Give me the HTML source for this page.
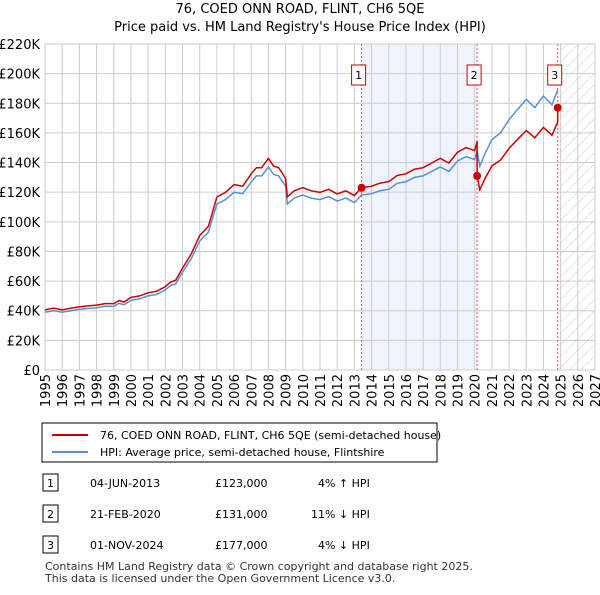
<!DOCTYPE html>
<html><head><meta charset="utf-8"><style>
body{margin:0;background:#fff;font-family:"Liberation Sans","DejaVu Sans",sans-serif;}
svg text{font-family:"DejaVu Sans","Liberation Sans",sans-serif;}
</style></head><body>
<svg id="c" width="600" height="590" viewBox="0 0 600 590" xmlns="http://www.w3.org/2000/svg">
<defs><pattern id="h" width="8" height="8" patternUnits="userSpaceOnUse" patternTransform="rotate(45)"><line x1="0" y1="0" x2="0" y2="8" stroke="#ccc" stroke-width="1"/></pattern></defs>
<text x="300" y="13" text-anchor="middle" font-size="13" fill="#000">76, COED ONN ROAD, FLINT, CH6 5QE</text>
<text x="300" y="31" text-anchor="middle" font-size="13" fill="#000">Price paid vs. HM Land Registry's House Price Index (HPI)</text>
<g id="plot"></g>
<g>
<rect x="42" y="423" width="395" height="39" fill="#fff" stroke="#000" stroke-width="1"/>
<line x1="52" y1="435" x2="88" y2="435" stroke="#cc0000" stroke-width="2"/>
<text x="100" y="439" font-size="11">76, COED ONN ROAD, FLINT, CH6 5QE (semi-detached house)</text>
<line x1="52" y1="452" x2="88" y2="452" stroke="#5b8fd4" stroke-width="2"/>
<text x="100" y="456" font-size="11">HPI: Average price, semi-detached house, Flintshire</text>
</g>
<g font-size="11">
<rect x="43" y="474" width="15" height="17" fill="#fff" stroke="#000"/><text x="50.5" y="487" text-anchor="middle">1</text>
<text x="90" y="487">04-JUN-2013</text><text x="215" y="487">£123,000</text><text x="318" y="487">4% ↑ HPI</text>
<rect x="43" y="505" width="15" height="17" fill="#fff" stroke="#000"/><text x="50.5" y="518" text-anchor="middle">2</text>
<text x="90" y="518">21-FEB-2020</text><text x="215" y="518">£131,000</text><text x="311" y="518">11% ↓ HPI</text>
<rect x="43" y="536" width="15" height="17" fill="#fff" stroke="#000"/><text x="50.5" y="549" text-anchor="middle">3</text>
<text x="90" y="549">01-NOV-2024</text><text x="215" y="549">£177,000</text><text x="318" y="549">4% ↓ HPI</text>
</g>
<text x="45" y="570" font-size="11" fill="#333">Contains HM Land Registry data © Crown copyright and database right 2025.</text>
<text x="45" y="582" font-size="11" fill="#333">This data is licensed under the Open Government Licence v3.0.</text>
</svg>
<script>
const hpiYears=[1995,1995.5,1996,1996.5,1997,1997.5,1998,1998.5,1999,1999.3,1999.6,2000,2000.5,2001,2001.5,2002,2002.3,2002.6,2003,2003.5,2004,2004.5,2005,2005.5,2006,2006.5,2007,2007.3,2007.6,2008,2008.3,2008.6,2009,2009.1,2009.5,2010,2010.5,2011,2011.5,2012,2012.5,2013,2013.42,2014,2014.5,2015,2015.5,2016,2016.5,2017,2017.5,2018,2018.5,2019,2019.5,2020,2020.14,2020.3,2020.6,2021,2021.5,2022,2022.5,2023,2023.5,2024,2024.5,2024.83];
const hpiValues=[39,40,39,40,41,41.5,42,43,43,45,44,47,48,50,51,54,57,58,66,75,87,93,112,115,120,119,127,131,131,137,132,131,124,112,116,118,116,115,117,114,116,113,118,119,121,122,126,127,130,131,134,137,134,141,144,142,148,137.5,146,155.5,160,169,176,182.6,177,185,179,189];
const saleYears=[2013.42,2020.14,2024.83];
const salePrices=[123,131,177];
const saleLabels=["1","2","3"];
const yTicks=[0,20,40,60,80,100,120,140,160,180,200,220];
const xTicks=[1995,1996,1997,1998,1999,2000,2001,2002,2003,2004,2005,2006,2007,2008,2009,2010,2011,2012,2013,2014,2015,2016,2017,2018,2019,2020,2021,2022,2023,2024,2025,2026,2027];
const NS="http://www.w3.org/2000/svg";
const L=45,R=595,T=44,B=370;
const sx=v=>L+(v-1995)*(R-L)/32;
const sy=v=>B-v*(B-T)/220;
const g=document.getElementById('plot');
function mk(t,a,p){const e=document.createElementNS(NS,t);for(const k in a)e.setAttribute(k,a[k]);(p||g).appendChild(e);return e;}
function hpiAt(x){for(let i=1;i<hpiYears.length;i++){if(x<=hpiYears[i]){const f=(x-hpiYears[i-1])/(hpiYears[i]-hpiYears[i-1]);return hpiValues[i-1]+f*(hpiValues[i]-hpiValues[i-1]);}}return hpiValues[hpiValues.length-1];}
let e=mk('rect',{x:sx(saleYears[0]),y:T,width:sx(saleYears[1])-sx(saleYears[0]),height:B-T,fill:'#eef3fc'});


e=mk('rect',{x:sx(2024.92),y:T,width:R-sx(2024.92),height:B-T,fill:'url(#h)'});


yTicks.forEach(v=>{const l=mk('line',{x1:L,x2:R,y1:sy(v),y2:sy(v),stroke:'#ccc','stroke-width':1});


const t=mk('text',{x:L-5,y:sy(v)+5,'text-anchor':'end','font-size':13,fill:'#000'});t.textContent=v===0?'£0':'£'+v+'K';

});
xTicks.forEach(v=>{const l=mk('line',{x1:sx(v),x2:sx(v),y1:T,y2:B,stroke:'#ccc','stroke-width':1});


const t=mk('text',{x:0,y:0,'text-anchor':'end','font-size':13,fill:'#000',transform:`translate(${sx(v)+5},${B+4}) rotate(-90)`});t.textContent=v;

});
e=mk('rect',{x:L,y:T,width:R-L,height:B-T,fill:'none',stroke:'#ccc'});


saleYears.forEach(s=>{const l=mk('line',{x1:sx(s),x2:sx(s),y1:T,y2:B,stroke:'#e06060','stroke-width':1,'stroke-dasharray':'2,2'});

});
let d=hpiYears.map((x,i)=>(i?'L':'M')+sx(x).toFixed(1)+','+sy(hpiValues[i]).toFixed(1)).join('');
e=mk('path',{d:d,fill:'none',stroke:'#5b8fd4','stroke-width':1.5});


const factor=x=>{let k=0;for(let i=0;i<saleYears.length;i++)if(x>=saleYears[i])k=i;return salePrices[k]/hpiAt(saleYears[k]);};
let pts=[];
hpiYears.forEach((x,i)=>{if(x>saleYears[2])return;
 for(let s=0;s<saleYears.length;s++){if(x===saleYears[s]&&s>0){pts.push([x,hpiValues[i]*salePrices[s-1]/hpiAt(saleYears[s-1])]);}}
 pts.push([x,hpiValues[i]*factor(x)]);});
pts.push([saleYears[2],salePrices[2]]);
d=pts.map((p,i)=>(i?'L':'M')+sx(p[0]).toFixed(1)+','+sy(p[1]).toFixed(1)).join('');
e=mk('path',{d:d,fill:'none',stroke:'#cc0000','stroke-width':1.5});


saleYears.forEach((s,i)=>{const c=mk('circle',{cx:sx(s),cy:sy(salePrices[i]),r:4,fill:'#cc0000'});


const r=mk('rect',{x:sx(s)-10,y:65,width:14,height:20,fill:'#fff',stroke:'#cc0000'});


const t=mk('text',{x:sx(s)-3,y:79,'text-anchor':'middle','font-size':11});t.textContent=saleLabels[i];

});
</script>
</body></html>
